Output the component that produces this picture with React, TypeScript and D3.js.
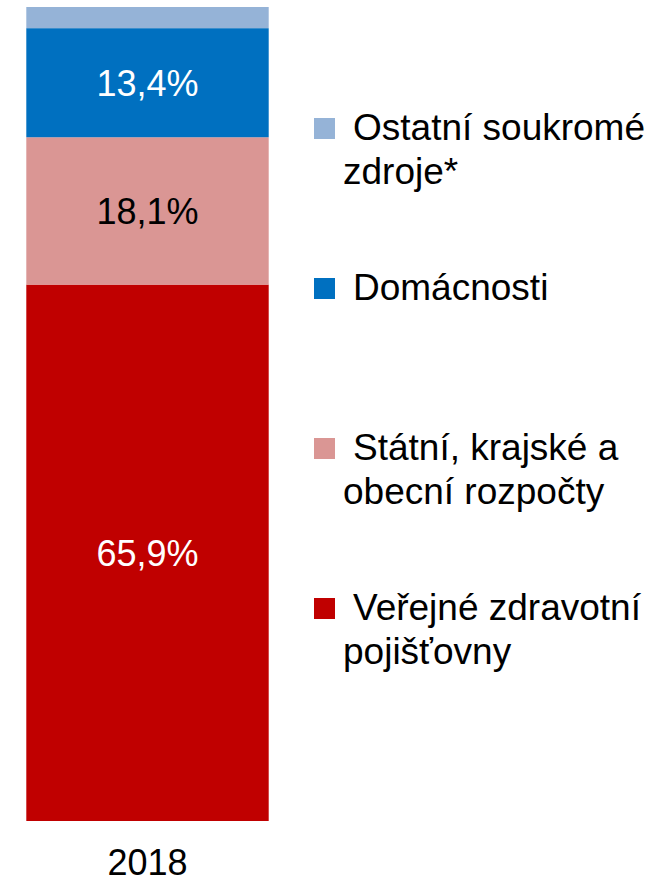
import React from "react";
import * as d3 from "d3";

const categories = ["2018"];
const seriesNames = [
  "Veřejné zdravotní pojišťovny",
  "Státní, krajské a obecní rozpočty",
  "Domácnosti",
  "Ostatní soukromé zdroje*",
];
const seriesValues = [65.9, 18.1, 13.4, 2.6];
const valueLabels = ["65,9%", "18,1%", "13,4%", ""];
const seriesColors = ["#C00000", "#DA9694", "#0070C0", "#95B3D7"];
const labelColors = ["#FFFFFF", "#000000", "#FFFFFF", "#FFFFFF"];
// legend listed top to bottom
const legendOrder = [3, 2, 1, 0];
const legendLines = [
  ["Veřejné zdravotní", "pojišťovny"],
  ["Státní, krajské a", "obecní rozpočty"],
  ["Domácnosti"],
  ["Ostatní soukromé", "zdroje*"],
];

const W = 665;
const H = 880;
const FONT = "'Liberation Sans', Arial, sans-serif";
const FS = 36;
const LFS = 37;

export default function App() {
  const x = d3.scaleBand<string>().domain(categories).range([26.3, 268.7]).padding(0);
  const y = d3.scaleLinear().domain([0, 100]).range([821, 7]);

  const row: Record<string, number | string> = { cat: categories[0] };
  seriesNames.forEach((n, i) => (row[n] = seriesValues[i]));
  const stacked = d3.stack<any>().keys(seriesNames)([row]);

  const legendY = d3.scalePoint<number>().domain(legendOrder).range([140, 620]);

  return (
    <svg
      width={W}
      height={H}
      style={{ position: "absolute", left: 0, top: 0, display: "block" }}
      fontFamily={FONT}
    >
      <rect width={W} height={H} fill="#FFFFFF" />
      {stacked.map((s, i) =>
        s.map((d, j) => {
          const x0 = x(categories[j]) as number;
          const y0 = y(d[1]);
          const y1 = y(d[0]);
          return (
            <g key={`${i}-${j}`}>
              <rect x={x0} y={y0} width={x.bandwidth()} height={y1 - y0} fill={seriesColors[i]} />
              {valueLabels[i] && (
                <text
                  x={x0 + x.bandwidth() / 2}
                  y={(y0 + y1) / 2 + FS * 0.36}
                  textAnchor="middle"
                  fontSize={FS}
                  fill={labelColors[i]}
                >
                  {valueLabels[i]}
                </text>
              )}
            </g>
          );
        })
      )}
      {categories.map((c) => (
        <text
          key={c}
          x={(x(c) as number) + x.bandwidth() / 2}
          y={875}
          textAnchor="middle"
          fontSize={FS}
          fill="#000000"
        >
          {c}
        </text>
      ))}
      {legendOrder.map((si) => {
        const by = legendY(si) as number;
        return (
          <g key={si}>
            <rect x={314} y={by - 22} width={21} height={21} fill={seriesColors[si]} />
            {legendLines[si].map((ln, k) => (
              <text
                key={k}
                x={k === 0 ? 353 : 343}
                y={by + k * 44}
                fontSize={LFS}
                fill="#000000"
              >
                {ln}
              </text>
            ))}
          </g>
        );
      })}
    </svg>
  );
}
